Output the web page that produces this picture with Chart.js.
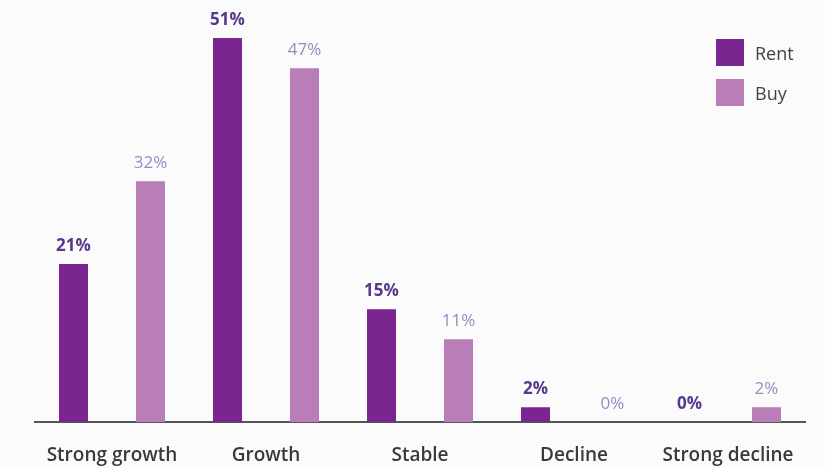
<!DOCTYPE html>
<html>
<head>
<meta charset="utf-8">
<script src="https://cdn.jsdelivr.net/npm/chart.js"></script>
<style>
body{
	margin: 0;
	background-color: #fbfbfc;
	font-family: "Open Sans", sans-serif;
	overflow: hidden;
}
.wrap{
	position: relative;
	width: 825px;
	height: 468px;
}
#legend{
	position: absolute;
	left: 716px;
	top: 39px;
	margin: 0;
	padding: 0;
	list-style: none;
}
#legend li{
	display: flex;
	align-items: center;
	height: 27px;
	margin-bottom: 13px;
	font-size: 18px;
	font-weight: 500;
	color: #444;
}
#legend span.box{
	display: inline-block;
	width: 28px;
	height: 27px;
	margin-right: 11px;
}
</style>
</head>
<body>

<div class="wrap">
	<canvas id="barChart" width="825" height="468"></canvas>
	<ul id="legend"></ul>
</div>

<script>
    var categories = ["Strong growth", "Growth", "Stable", "Decline", "Strong decline"];
    var rentValues = [21, 51, 15, 2, 0];
    var buyValues = [32, 47, 11, 0, 2];
    var seriesNames = ["Rent", "Buy"];

    var rentColor = "#7b2590";
    var buyColor = "#b97db7";

    // draws the % label above each bar
    var valueLabels = {
        id: "valueLabels",
        afterDatasetsDraw: function(chart) {
            var ctx = chart.ctx;
            ctx.save();
            ctx.textAlign = "center";
            ctx.textBaseline = "middle";
            chart.data.datasets.forEach(function(ds, i) {
                var meta = chart.getDatasetMeta(i);
                ctx.font = (i == 0 ? "bold " : "") + "17px 'Open Sans'";
                ctx.fillStyle = i == 0 ? "#56398a" : "#9a89c2";
                meta.data.forEach(function(bar, j) {
                    ctx.fillText(ds.data[j] + "%", bar.x, bar.y - 18);
                });
            });
            ctx.restore();
        }
    };

    var chart = new Chart(document.getElementById("barChart"), {
        type: "bar",
        data: {
            labels: categories,
            datasets: [
                { label: seriesNames[0], data: rentValues, backgroundColor: rentColor },
                { label: seriesNames[1], data: buyValues, backgroundColor: buyColor }
            ]
        },
        options: {
            responsive: false,
            animation: false,
            layout: {
                padding: { left: 35, right: 20, top: 8, bottom: -21 }
            },
            plugins: {
                legend: { display: false },
                tooltip: { enabled: false }
            },
            datasets: {
                bar: { categoryPercentage: 1.0, barPercentage: 0.377 }
            },
            scales: {
                x: {
                    grid: { display: false, drawTicks: false },
                    border: { display: true, color: "#555", width: 2 },
                    ticks: {
                        padding: 22,
                        color: "#3a3a3a",
                        font: { family: "Open Sans", size: 19, weight: "600" }
                    }
                },
                y: {
                    display: false,
                    min: 0,
                    max: 55
                }
            }
        },
        plugins: [valueLabels]
    });

    // html legend
    var legend = document.getElementById("legend");
    chart.data.datasets.forEach(function(ds) {
        var li = document.createElement("li");
        li.innerHTML = '<span class="box" style="background:' + ds.backgroundColor + '"></span>' + ds.label;
        legend.appendChild(li);
    });
</script>

</body>
</html>
